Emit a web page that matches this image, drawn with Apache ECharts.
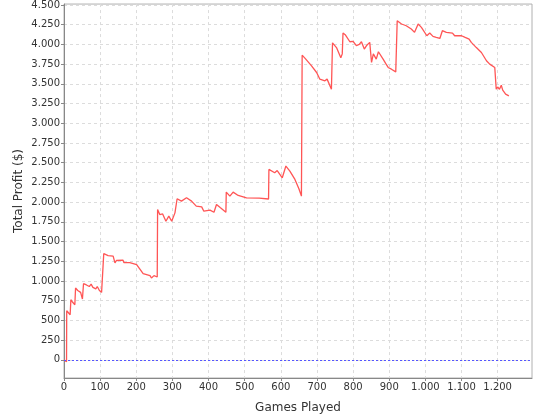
<!DOCTYPE html>
<html>
<head>
<meta charset="utf-8">
<script src="https://cdn.jsdelivr.net/npm/echarts@6/dist/echarts.min.js"></script>
<style>html,body{margin:0;padding:0;background:#fff}#c{width:540px;height:420px}</style>
</head>
<body>
<div id="c"></div>
<script>
var games = [0,3,7,7.5,12,17,19,24,30,32,38,46,51,54,62,70,75,80,88,92,98,104,109,110,122,136,141,145,150,163,166,182,201,219,238,242,249,258,
259,265,273,282,290,298,307,311,313,325,339,353,366,381,387,404,415,422,433,448,449,459,468,482,505,540,566,
567,583,590,604,614,625,639,650,657,659,669,685,699,708,722,728,740,743,754,766,768,770,772,779,791,800,809,817,823,831,838,846,848,851,856,864,870,883,890,897,906,918,
922,934,947,961,970,980,989,1004,1012,1021,1030,1040,1047,1058,1075,1081,1100,1110,1121,1127,1141,1155,1169,1178,1192,1195,1196,1200,1205,1210,1214,1222,1231];
var profit = [0,-25,-25,623,600,572,763,730,699,911,880,856,771,966,950,930,960,920,900,930,880,856,860,1347,1322,1315,1229,1260,1271,1265,1233,1233,1208,1093,1068,1038,1068,1051,
1907,1843,1850,1758,1822,1758,1864,1850,2043,2013,2055,2013,1949,1940,1885,1898,1872,1970,1928,1872,2127,2076,2127,2085,2055,2050,2040,
2415,2373,2400,2309,2458,2394,2288,2170,2076,3864,3814,3729,3644,3559,3538,3560,3432,4020,3960,3830,3814,3880,4144,4119,4034,4040,3986,4000,4034,3941,3990,4026,4030,3771,3880,3814,3907,3814,3760,3708,3686,3652,
4300,4259,4237,4195,4153,4259,4216,4110,4144,4102,4089,4076,4174,4153,4144,4110,4110,4089,4068,4026,3960,3898,3793,3750,3708,3690,3432,3460,3432,3483,3420,3369,3347];
var yTicks = [0,250,500,750,1000,1250,1500,1750,2000,2250,2500,2750,3000,3250,3500,3750,4000,4250,4500];
var xTicks = [0,100,200,300,400,500,600,700,800,900,1000,1100,1200];

function fmt(v){ return String(Math.round(v)).replace(/\B(?=(\d{3})+(?!\d))/g,'.'); }
var pts = games.map(function(g,i){ return [g, profit[i]]; });

var chart = echarts.init(document.getElementById('c'), null, {renderer:'canvas'});
var lab = {fontFamily:'DejaVu Sans', fontSize:10, color:'#333'};
chart.setOption({
  animation:false,
  backgroundColor:'#fff',
  grid:{left:64, right:8, top:4, bottom:42, show:true, borderColor:'#b0b0b0', borderWidth:1, backgroundColor:'#fff'},
  xAxis:{
    type:'value', min:0, max:1295,
    name:'Games Played', nameLocation:'middle', nameGap:24,
    nameTextStyle:{fontFamily:'DejaVu Sans', fontSize:12, color:'#333'},
    axisLine:{show:true, onZero:false, lineStyle:{color:'#888'}},
    axisTick:{show:true, customValues:xTicks, length:3, lineStyle:{color:'#888'}},
    axisLabel:Object.assign({customValues:xTicks, formatter:fmt, margin:4}, lab),
    splitLine:{show:true, lineStyle:{color:'#dcdcdc', type:[3,3], width:1}}
  },
  yAxis:{
    type:'value', min:-230, max:4512,
    name:'Total Profit ($)', nameLocation:'middle', nameGap:39, nameRotate:90, nameMoveOverlap:false,
    nameTextStyle:{fontFamily:'DejaVu Sans', fontSize:12, color:'#333'},
    axisLine:{show:true, lineStyle:{color:'#888'}},
    axisTick:{show:true, customValues:yTicks, length:3, lineStyle:{color:'#888'}},
    axisLabel:Object.assign({customValues:yTicks, formatter:fmt, margin:4}, lab),
    splitLine:{show:true, lineStyle:{color:'#dcdcdc', type:[3,3], width:1}}
  },
  series:[{
    type:'line', data:pts, showSymbol:false, symbol:'none',
    lineStyle:{color:'#ff5555', width:1.3}, itemStyle:{color:'#ff5555'},
    markLine:{silent:true, symbol:'none', label:{show:false},
      lineStyle:{color:'#5555ff', type:[2,2], width:1},
      data:[{yAxis:0}]}
  }]
});
</script>
</body>
</html>
